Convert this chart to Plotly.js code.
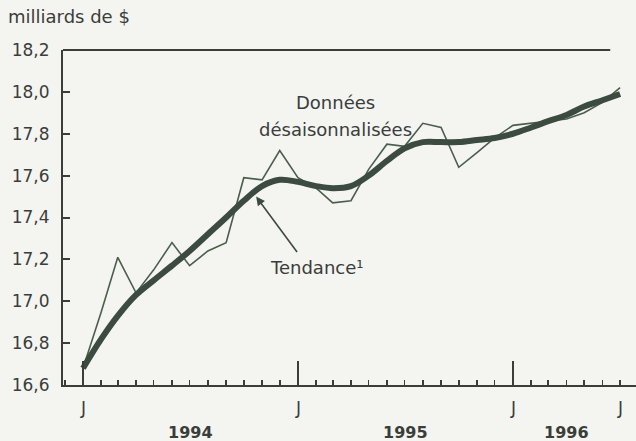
<!DOCTYPE html>
<html>
<head>
<meta charset="utf-8">
<script src="https://cdn.plot.ly/plotly-3.0.1.min.js"></script>
<style>
  html, body { margin: 0; padding: 0; background: #f4f4f1; }
  #chart { width: 636px; height: 441px; }
</style>
</head>
<body>
<div id="chart"></div>
<script>
// Months (Jan 1994 .. Jul 1996)
const months = [
  '1994-01-01','1994-02-01','1994-03-01','1994-04-01','1994-05-01','1994-06-01',
  '1994-07-01','1994-08-01','1994-09-01','1994-10-01','1994-11-01','1994-12-01',
  '1995-01-01','1995-02-01','1995-03-01','1995-04-01','1995-05-01','1995-06-01',
  '1995-07-01','1995-08-01','1995-09-01','1995-10-01','1995-11-01','1995-12-01',
  '1996-01-01','1996-02-01','1996-03-01','1996-04-01','1996-05-01','1996-06-01',
  '1996-07-01'
];

// Seasonally adjusted data (billions of $)
const seasAdj = [
  16.68, 16.95, 17.21, 17.04, 17.15, 17.28,
  17.17, 17.24, 17.28, 17.59, 17.58, 17.72,
  17.59, 17.54, 17.47, 17.48, 17.63, 17.75,
  17.74, 17.85, 17.83, 17.64, 17.71, 17.78,
  17.84, 17.85, 17.86, 17.87, 17.90, 17.95,
  18.02
];

// Trend
const trend = [
  16.68, 16.82, 16.93, 17.03, 17.10, 17.17,
  17.24, 17.32, 17.40, 17.48, 17.55, 17.58,
  17.57, 17.55, 17.54, 17.55, 17.60, 17.67,
  17.73, 17.76, 17.76, 17.76, 17.77, 17.78,
  17.80, 17.83, 17.86, 17.89, 17.93, 17.96,
  17.99
];

// Axis labels
const majorTicks = ['1994-01-01', '1995-01-01', '1996-01-01'];
const monthLabelDates = ['1994-01-01', '1995-01-01', '1996-01-01', '1996-07-01'];
const monthLabels = ['J', 'J', 'J', 'J'];
const yearLabelDates = ['1994-07-02', '1995-07-02', '1996-04-01'];
const yearLabels = ['1994', '1995', '1996'];
const yTickVals = [16.6, 16.8, 17.0, 17.2, 17.4, 17.6, 17.8, 18.0, 18.2];
const yRightTickVals = [16.8, 17.0, 17.2, 17.4, 17.6, 17.8, 18.0];

const ink = '#3a3d3a';
const lineCol = '#3c4b3f';
const FONT = 'DejaVu Sans, Arial, sans-serif';

const traces = [
  {
    x: months, y: seasAdj, type: 'scatter', mode: 'lines',
    line: { color: '#4b5e4c', width: 1.6 },
    hoverinfo: 'skip', showlegend: false
  },
  {
    x: months, y: trend, type: 'scatter', mode: 'lines',
    line: { color: lineCol, width: 6, shape: 'spline', smoothing: 1 },
    hoverinfo: 'skip', showlegend: false
  }
];

const annotations = [];
monthLabelDates.forEach((d, i) => annotations.push({
  x: d, xref: 'x', y: -0.068, yref: 'paper', text: monthLabels[i],
  showarrow: false, xanchor: 'center', yanchor: 'middle',
  font: { family: FONT, size: 17, color: ink }
}));
yearLabelDates.forEach((d, i) => annotations.push({
  x: d, xref: 'x', y: -0.143, yref: 'paper', text: yearLabels[i],
  showarrow: false, xanchor: 'center', yanchor: 'middle',
  font: { family: FONT, size: 16, color: ink, weight: 'bold' }
}));
annotations.push({
  x: -0.1, xref: 'paper', y: 1.099, yref: 'paper', text: 'milliards de $',
  showarrow: false, xanchor: 'left', yanchor: 'middle',
  font: { family: FONT, size: 18, color: ink }
});
annotations.push({
  x: '1995-03-06', xref: 'x', y: 17.95, yref: 'y', text: 'Données',
  showarrow: false, xanchor: 'center', yanchor: 'middle',
  font: { family: FONT, size: 18, color: ink }
});
annotations.push({
  x: '1995-03-06', xref: 'x', y: 17.82, yref: 'y', text: 'désaisonnalisées',
  showarrow: false, xanchor: 'center', yanchor: 'middle',
  font: { family: FONT, size: 18, color: ink }
});
annotations.push({
  x: '1995-02-02', xref: 'x', y: 17.16, yref: 'y', text: 'Tendance¹',
  showarrow: false, xanchor: 'center', yanchor: 'middle',
  font: { family: FONT, size: 18, color: ink }
});
annotations.push({
  x: '1994-10-22', xref: 'x', y: 17.50, yref: 'y', text: '',
  showarrow: true, ax: 42, ay: 57, axref: 'pixel', ayref: 'pixel',
  arrowhead: 2, arrowsize: 1.1, arrowwidth: 1.6, arrowcolor: lineCol,
  standoff: 0, startstandoff: 0
});

const layout = {
  width: 636, height: 441,
  margin: { l: 63, r: 0, t: 50, b: 56 },
  paper_bgcolor: '#f4f4f1', plot_bgcolor: '#f4f4f1',
  separators: ', ',
  showlegend: false,
  xaxis: {
    type: 'date',
    range: ['1993-11-28', '1996-07-28'],
    showline: true, linecolor: ink, linewidth: 2,
    ticks: 'inside', ticklen: 24, tickwidth: 2, tickcolor: ink,
    tickvals: majorTicks, showticklabels: false,
    minor: { dtick: 'M1', tick0: '1994-01-01', ticks: 'inside', ticklen: 5, tickwidth: 1.6, tickcolor: ink, showgrid: false },
    showgrid: false, zeroline: false, fixedrange: true
  },
  yaxis: {
    range: [16.6, 18.2],
    tickvals: yTickVals, tickformat: '.1f',
    showline: true, linecolor: ink, linewidth: 2,
    ticks: 'inside', ticklen: 7, tickwidth: 2, tickcolor: ink,
    ticklabelstandoff: 8,
    tickfont: { family: FONT, size: 17, color: ink },
    showgrid: false, zeroline: false, fixedrange: true
  },
  yaxis2: {
    overlaying: 'y', side: 'right',
    range: [16.6, 18.2],
    tickvals: yRightTickVals,
    showline: false, showticklabels: false,
    ticks: 'inside', ticklen: 8, tickwidth: 2, tickcolor: ink,
    showgrid: false, zeroline: false, fixedrange: true
  },
  shapes: [
    { type: 'line', xref: 'paper', yref: 'paper', x0: 0, x1: 0.955, y0: 1, y1: 1,
      line: { color: ink, width: 2 } }
  ],
  annotations: annotations
};

Plotly.newPlot('chart', traces, layout, { staticPlot: true, displayModeBar: false });
</script>
</body>
</html>
